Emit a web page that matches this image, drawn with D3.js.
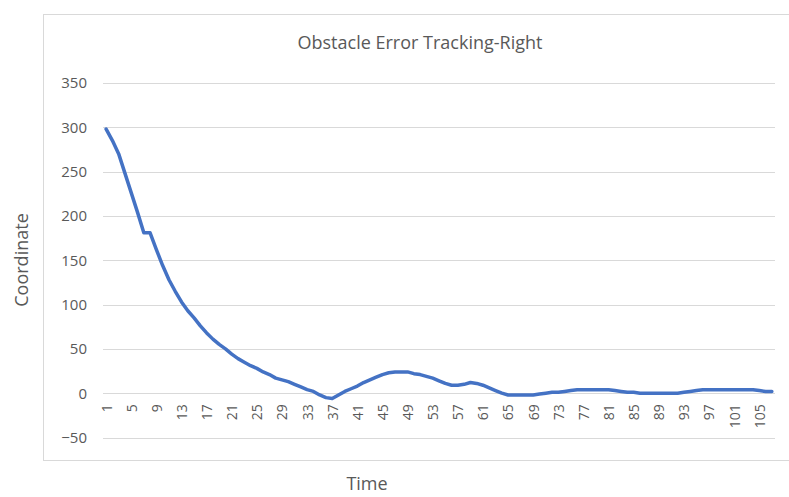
<!DOCTYPE html>
<html>
<head>
<meta charset="utf-8">
<script src="https://cdn.jsdelivr.net/npm/d3@7"></script>
<style>
  body { margin: 0; background: #fff; }
  text { font-family: "Open Sans", sans-serif; fill: #595959; }
</style>
</head>
<body>
<div class="chart"></div>
<script>
// Obstacle Error Tracking-Right - line chart

// data (time step 1..107)
var errorValues = [
  298, 285, 270, 248, 226, 204, 181, 181, 162, 144,
  128, 115, 103, 93, 85, 76, 68, 61, 55, 50,
  44, 39, 35, 31, 28, 24, 21, 17, 15, 13,
  10, 7, 4, 2, -2, -5, -6, -2, 2, 5,
  8, 12, 15, 18, 21, 23, 24, 24, 24, 22,
  21, 19, 17, 14, 11, 9, 9, 10, 12, 11,
  9, 6, 3, 0, -2, -2, -2, -2, -2, -1,
  0, 1, 1, 2, 3, 4, 4, 4, 4, 4,
  4, 3, 2, 1, 1, 0, 0, 0, 0, 0,
  0, 0, 1, 2, 3, 4, 4, 4, 4, 4,
  4, 4, 4, 4, 3, 2, 2
];
var timeSteps = errorValues.map(function(d, i) { return i + 1; });
var yTicks = [-50, 0, 50, 100, 150, 200, 250, 300, 350];
var xTickLabels = timeSteps.filter(function(t) { return (t - 1) % 4 === 0; });

var W = 789, H = 497;
var plot = {left: 103, right: 775, top: 83, bottom: 437.5};

var svg = d3.select(".chart")
    .append("svg")
    .attr("width", W)
    .attr("height", H);

// chart frame
svg.append("rect")
    .attr("x", 43.5)
    .attr("y", 14.5)
    .attr("width", 800)
    .attr("height", 446)
    .attr("fill", "none")
    .attr("stroke", "#d9d9d9");

var xScale = d3.scalePoint()
    .domain(timeSteps)
    .range([plot.left, plot.right])
    .padding(0.5);

var yScale = d3.scaleLinear()
    .domain([-50, 350])
    .range([plot.bottom, plot.top]);

// gridlines
svg.append("g")
    .selectAll("line")
    .data(yTicks)
    .enter().append("line")
    .attr("x1", plot.left)
    .attr("x2", plot.right)
    .attr("y1", function(d) { return Math.round(yScale(d)) + 0.5; })
    .attr("y2", function(d) { return Math.round(yScale(d)) + 0.5; })
    .attr("stroke", "#d9d9d9")
    .attr("stroke-width", 1);

// y axis labels
var yAxis = d3.axisLeft(yScale)
    .tickValues(yTicks)
    .tickSize(0)
    .tickPadding(0);

svg.append("g")
    .attr("transform", "translate(87,0)")
    .call(yAxis)
    .call(function(g) { g.select(".domain").remove(); })
    .selectAll("text")
    .style("font-size", "15px")
    .style("font-family", "Open Sans, sans-serif")
    .attr("fill", "#595959");

// x axis labels (axis crosses at 0)
var xAxis = d3.axisBottom(xScale)
    .tickValues(xTickLabels)
    .tickSize(0)
    .tickPadding(0);

svg.append("g")
    .attr("transform", "translate(0," + yScale(0) + ")")
    .call(xAxis)
    .call(function(g) { g.select(".domain").remove(); })
    .selectAll("text")
    .attr("transform", "rotate(-90)")
    .attr("x", -11)
    .attr("y", 0)
    .attr("dy", "0.35em")
    .style("text-anchor", "end")
    .style("font-size", "14px")
    .style("font-family", "Open Sans, sans-serif")
    .attr("fill", "#595959");

// the line
var line = d3.line()
    .x(function(d, i) { return xScale(timeSteps[i]); })
    .y(function(d) { return yScale(d); });

svg.append("path")
    .datum(errorValues)
    .attr("d", line)
    .attr("fill", "none")
    .attr("stroke", "#4472c4")
    .attr("stroke-width", 3.5)
    .attr("stroke-linejoin", "round")
    .attr("stroke-linecap", "round");

// titles
svg.append("text")
    .attr("x", 420)
    .attr("y", 49)
    .attr("text-anchor", "middle")
    .style("font-size", "18px")
    .text("Obstacle Error Tracking-Right");

svg.append("text")
    .attr("transform", "translate(28,260) rotate(-90)")
    .attr("text-anchor", "middle")
    .style("font-size", "18px")
    .text("Coordinate");

svg.append("text")
    .attr("x", 367)
    .attr("y", 490)
    .attr("text-anchor", "middle")
    .style("font-size", "18px")
    .text("Time");
</script>
</body>
</html>
